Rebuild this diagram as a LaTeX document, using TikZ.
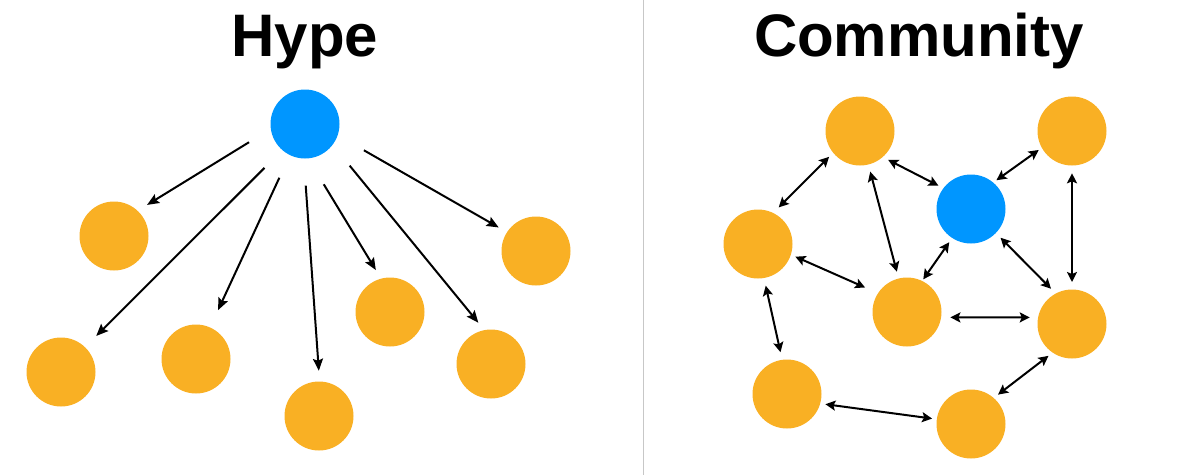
\documentclass[tikz,border=0pt]{standalone}
\usepackage{fontspec}
\setmainfont{Liberation Sans}
\usetikzlibrary{arrows.meta}
\definecolor{fanblue}{HTML}{0096FF}
\definecolor{fanorange}{HTML}{F9B024}
\begin{document}
\begin{tikzpicture}[x=1pt,y=-1pt]
  \tikzstyle{person}=[circle,minimum size=69pt,inner sep=0pt,outer sep=0pt,fill=fanorange]
  \tikzstyle{source}=[person,fill=fanblue]
  \tikzstyle{headline}=[anchor=base,inner sep=0pt,font=\fontsize{60}{60}\selectfont\bfseries]
  \tikzstyle{oneway}=[line width=2pt,-{Stealth[length=12pt,width=10pt,inset=2pt]}]
  \tikzstyle{twoway}=[line width=2pt,{Stealth[length=10pt,width=10pt,inset=2pt]}-{Stealth[length=10pt,width=10pt,inset=2pt]}]
  \useasboundingbox (0,0) rectangle (1200,475);

  \coordinate (splittop) at (643,0);
  \coordinate (splitbottom) at (643,475);
  \draw [line width=1pt,color=black!22] (splittop) -- (splitbottom);

  \node [headline] (hypetitle) at (305,56) {Hype};
  \node [headline] (communitytitle) at (919,56) {Community};

  \node [source] (hub) at (305,124) {};
  \node [person] (fanA) at (114,236) {};
  \node [person] (fanB) at (61,372) {};
  \node [person] (fanC) at (196,359) {};
  \node [person] (fanD) at (319,416) {};
  \node [person] (fanE) at (390,312) {};
  \node [person] (fanF) at (491,364) {};
  \node [person] (fanG) at (536,251) {};

  \draw [oneway,shorten <=25.6pt,shorten >=11.2pt] (hub.188) -- (fanA.47.5);
  \draw [oneway,shorten <=25.3pt,shorten >=15.9pt] (hub.229.3) -- (fanB.46.6);
  \draw [oneway,shorten <=25pt,shorten >=19.1pt] (hub.244.5) -- (fanC.66.8);
  \draw [oneway,shorten <=27.2pt,shorten >=10.8pt] (hub.268.7) -- (fanD.89.7);
  \draw [oneway,shorten <=30.3pt,shorten >=10.1pt] (hub.275.5) -- (fanE.105.1);
  \draw [oneway,shorten <=27pt,shorten >=9.6pt] (hub.-37.1) -- (fanF.101.5);
  \draw [oneway,shorten <=30.3pt,shorten >=9.6pt] (hub.-19.8) -- (fanG.147.6);

  \node [source] (core) at (971,209) {};
  \node [person] (topleft) at (860,131) {};
  \node [person] (topright) at (1072,131) {};
  \node [person] (west) at (758,244) {};
  \node [person] (middle) at (907,312) {};
  \node [person] (east) at (1072,324) {};
  \node [person] (lowleft) at (787,394) {};
  \node [person] (lowright) at (971,424) {};

  \draw [twoway,shorten <=5.8pt,shorten >=7.9pt] (topleft.219.5) -- (west.64.8);
  \draw [twoway,shorten <=6.2pt,shorten >=5.6pt] (topleft.-49.3) -- (core.143.6);
  \draw [twoway,shorten <=7.4pt,shorten >=7.1pt] (topleft.-76.4) -- (middle.104.3);
  \draw [twoway,shorten <=4pt,shorten >=3.8pt] (core.50.9) -- (topright.209.1);
  \draw [twoway,shorten <=7.8pt,shorten >=7.5pt] (topright.-90) -- (east.90);
  \draw [twoway,shorten <=6.7pt,shorten >=6.8pt] (core.-44.6) -- (east.118);
  \draw [twoway,shorten <=5.2pt,shorten >=2pt] (core.237.2) -- (middle.64);
  \draw [twoway,shorten <=5pt,shorten >=14.2pt] (west.-18.1) -- (middle.147.5);
  \draw [twoway,shorten <=9.3pt,shorten >=8.4pt] (middle.-9.5) -- (east.169.5);
  \draw [twoway,shorten <=7.9pt,shorten >=7.8pt] (west.-80) -- (lowleft.98.3);
  \draw [twoway,shorten <=5.3pt,shorten >=4.8pt] (lowleft.-16.2) -- (lowright.172.8);
  \draw [twoway,shorten <=5.5pt,shorten >=5.3pt] (lowright.49) -- (east.236.4);
\end{tikzpicture}
\end{document}
